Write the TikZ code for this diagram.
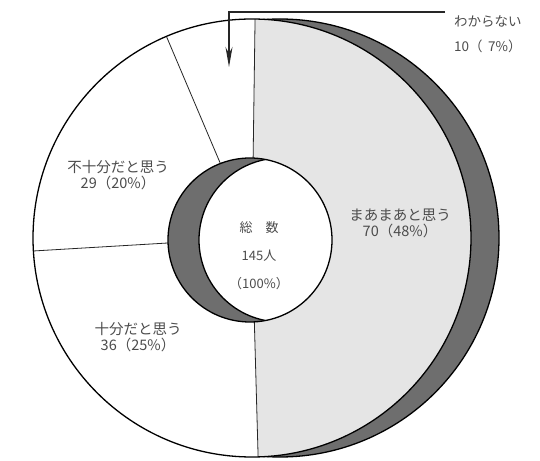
\documentclass[tikz,border=0pt]{standalone}
\usepackage{fontspec}
\setmainfont{Noto Sans CJK JP}
\usetikzlibrary{arrows.meta}

\begin{document}
\begin{tikzpicture}[x=1pt,y=1pt,>={Stealth[length=20pt,width=7pt]},wall/.style={fill=black!57,draw=black,line width=1.3pt},rim/.style={draw=black,line width=1.3pt},divider/.style={draw=black!85,line width=0.8pt},leader/.style={draw=black!85,line width=1.2pt},txt/.style={text=black!70,align=center,inner sep=0pt,font=\fontsize{14.5}{16}\selectfont}]
  \useasboundingbox (0,0) rectangle (540,460);
  \coordinate (F) at (252,222);
  \coordinate (B) at (280,222);
  \coordinate (H) at (250,220);
  \coordinate (Hb) at (281,220);

  \filldraw[wall] (B) circle[radius=219pt];
  \fill[white] (F) circle[radius=219pt];
  \fill[black!10] (F) -- ++(89.2:219pt) arc[start angle=89.2,end angle=-88.4,radius=219pt] -- cycle;
  \foreach \a in {89.2,-88.4,183.4,113}
    \draw[divider] (F) -- ++(\a:219pt);
  \draw[rim] (F) circle[radius=219pt];

  \fill[black!57] (H) circle[radius=82pt];
  \begin{scope}
    \clip (H) circle[radius=82pt];
    \filldraw[fill=white,rim] (Hb) circle[radius=82pt];
  \end{scope}
  \draw[rim] (H) circle[radius=82pt];

  \node[txt] (fujuubun) at (118,285) {不十分だと思う\\29（20\%）};
  \node[txt] (juubun) at (138,123) {十分だと思う\\36（25\%）};
  \node[txt] (maamaa) at (400,236.5) {まあまあと思う\\70（48\%）};
  \node[txt,font=\fontsize{13}{28}\selectfont] (total) at (259,204) {総\hspace{1em}数\\145人\\（100\%）};
  \node[txt,align=left,anchor=west,font=\fontsize{13.5}{25}\selectfont] (wakaranai) at (454,425.5) {わからない\\10（\hspace{0.4em}7\%）};

  \coordinate (lead) at (445,448);
  \coordinate (bend) at (229,448);
  \coordinate (tip) at (229,393);
  \draw[leader,->] (lead) -- (bend) -- (tip);
\end{tikzpicture}
\end{document}
